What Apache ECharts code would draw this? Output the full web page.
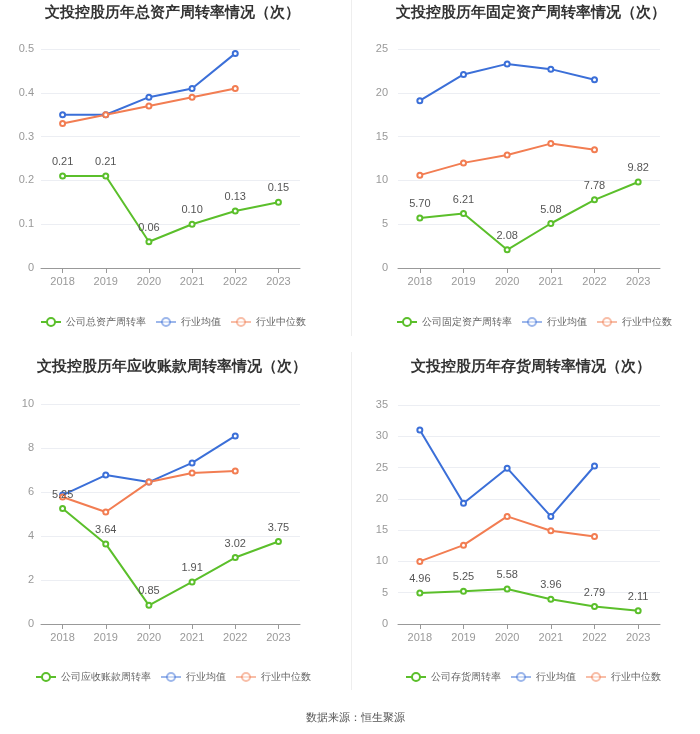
<!DOCTYPE html>
<html>
<head>
<meta charset="utf-8">
<script src="https://cdn.jsdelivr.net/npm/echarts@6/dist/echarts.min.js"></script>
<style>
  html, body { margin: 0; padding: 0; background: #fff; }
  #main { width: 700px; height: 734px; }
</style>
</head>
<body>
<div id="main"></div>
<script>
const years = ['2018', '2019', '2020', '2021', '2022', '2023'];

const titles = [
  '文投控股历年总资产周转率情况（次）',
  '文投控股历年固定资产周转率情况（次）',
  '文投控股历年应收账款周转率情况（次）',
  '文投控股历年存货周转率情况（次）'
];
const companyNames = ['公司总资产周转率', '公司固定资产周转率', '公司应收账款周转率', '公司存货周转率'];

const totalAsset = [0.21, 0.21, 0.06, 0.10, 0.13, 0.15];
const totalAssetAvg = [0.35, 0.35, 0.39, 0.41, 0.49, null];
const totalAssetMed = [0.33, 0.35, 0.37, 0.39, 0.41, null];

const fixedAsset = [5.70, 6.21, 2.08, 5.08, 7.78, 9.82];
const fixedAssetAvg = [19.1, 22.1, 23.3, 22.7, 21.5, null];
const fixedAssetMed = [10.6, 12.0, 12.9, 14.2, 13.5, null];

const receivable = [5.25, 3.64, 0.85, 1.91, 3.02, 3.75];
const receivableAvg = [5.86, 6.77, 6.45, 7.32, 8.55, null];
const receivableMed = [5.77, 5.09, 6.45, 6.86, 6.95, null];

const inventory = [4.96, 5.25, 5.58, 3.96, 2.79, 2.11];
const inventoryAvg = [31.0, 19.3, 24.9, 17.2, 25.25, null];
const inventoryMed = [10.0, 12.6, 17.2, 14.9, 14.0, null];

const yMax = [0.5, 25, 10, 35];
const yStep = [0.1, 5, 2, 5];

const panels = [
  [totalAsset, totalAssetAvg, totalAssetMed],
  [fixedAsset, fixedAssetAvg, fixedAssetMed],
  [receivable, receivableAvg, receivableMed],
  [inventory, inventoryAvg, inventoryMed]
];

const green = '#5bbf2b';
const blue = '#3b6fd8';
const orange = '#f27d52';

const gridPos = [
  { left: 41, top: 49, width: 259, height: 219 },
  { left: 398, top: 49, width: 262, height: 219 },
  { left: 41, top: 404, width: 259, height: 220 },
  { left: 398, top: 405, width: 262, height: 219 }
];
const titleCenters = [167, 526, 167, 526];
const titleTops = [0, 0, 354, 354];
const legendLefts = [35, 391, 30, 400];
const legendTops = [312, 312, 667, 667];
const yLabelMargin = [7, 10, 7, 10];

const chart = echarts.init(document.getElementById('main'));

const option = {
  backgroundColor: '#fff',
  animation: false,
  title: titles.map((t, i) => ({
    text: t,
    left: titleCenters[i],
    top: titleTops[i],
    textAlign: 'center',
    textStyle: { fontSize: 14.5, fontWeight: 'bold', color: '#333' }
  })).concat([{
    text: '数据来源：恒生聚源',
    left: 350,
    top: 707,
    textAlign: 'center',
    textStyle: { fontSize: 11, fontWeight: 'normal', color: '#555' }
  }]),
  legend: panels.map((p, i) => ({
    left: legendLefts[i],
    top: legendTops[i],
    width: 320,
    orient: 'horizontal',
    itemWidth: 20,
    itemHeight: 10,
    itemGap: 9,
    textStyle: { fontSize: 10, color: '#666' },
    data: [
      { name: companyNames[i] },
      { name: '行业均值', itemStyle: { opacity: 0.5 }, lineStyle: { opacity: 0.5 } },
      { name: '行业中位数', itemStyle: { opacity: 0.5 }, lineStyle: { opacity: 0.5 } }
    ]
  })),
  grid: gridPos,
  xAxis: gridPos.map((g, i) => ({
    type: 'category',
    gridIndex: i,
    data: years,
    axisTick: { show: true, alignWithLabel: true, lineStyle: { color: '#999' } },
    axisLine: { lineStyle: { color: '#999' } },
    axisLabel: { color: '#999', fontSize: 11, margin: 8 }
  })),
  yAxis: gridPos.map((g, i) => ({
    type: 'value',
    gridIndex: i,
    min: 0,
    max: yMax[i],
    interval: yStep[i],
    axisLine: { show: false },
    axisTick: { show: false },
    axisLabel: { color: '#999', fontSize: 11, margin: yLabelMargin[i] },
    splitLine: { lineStyle: { color: '#eceef3' } }
  })),
  series: [],
  graphic: [
    { type: 'rect', shape: { x: 351, y: 0, width: 1, height: 336 }, style: { fill: '#eeeeee' } },
    { type: 'rect', shape: { x: 351, y: 352, width: 1, height: 338 }, style: { fill: '#eeeeee' } }
  ]
};

panels.forEach((p, i) => {
  option.series.push({
    name: companyNames[i],
    type: 'line',
    xAxisIndex: i,
    yAxisIndex: i,
    data: p[0],
    color: green,
    symbol: 'emptyCircle',
    symbolSize: 5,
    lineStyle: { width: 2 },
    label: {
      show: true,
      position: 'top',
      distance: 5,
      color: '#555',
      fontSize: 11,
      formatter: (d) => d.value.toFixed(2)
    },
    z: 3
  });
  option.series.push({
    name: '行业均值',
    type: 'line',
    xAxisIndex: i,
    yAxisIndex: i,
    data: p[1],
    color: blue,
    symbol: 'emptyCircle',
    symbolSize: 5,
    lineStyle: { width: 2 }
  });
  option.series.push({
    name: '行业中位数',
    type: 'line',
    xAxisIndex: i,
    yAxisIndex: i,
    data: p[2],
    color: orange,
    symbol: 'emptyCircle',
    symbolSize: 5,
    lineStyle: { width: 2 }
  });
});

chart.setOption(option);
</script>
</body>
</html>
